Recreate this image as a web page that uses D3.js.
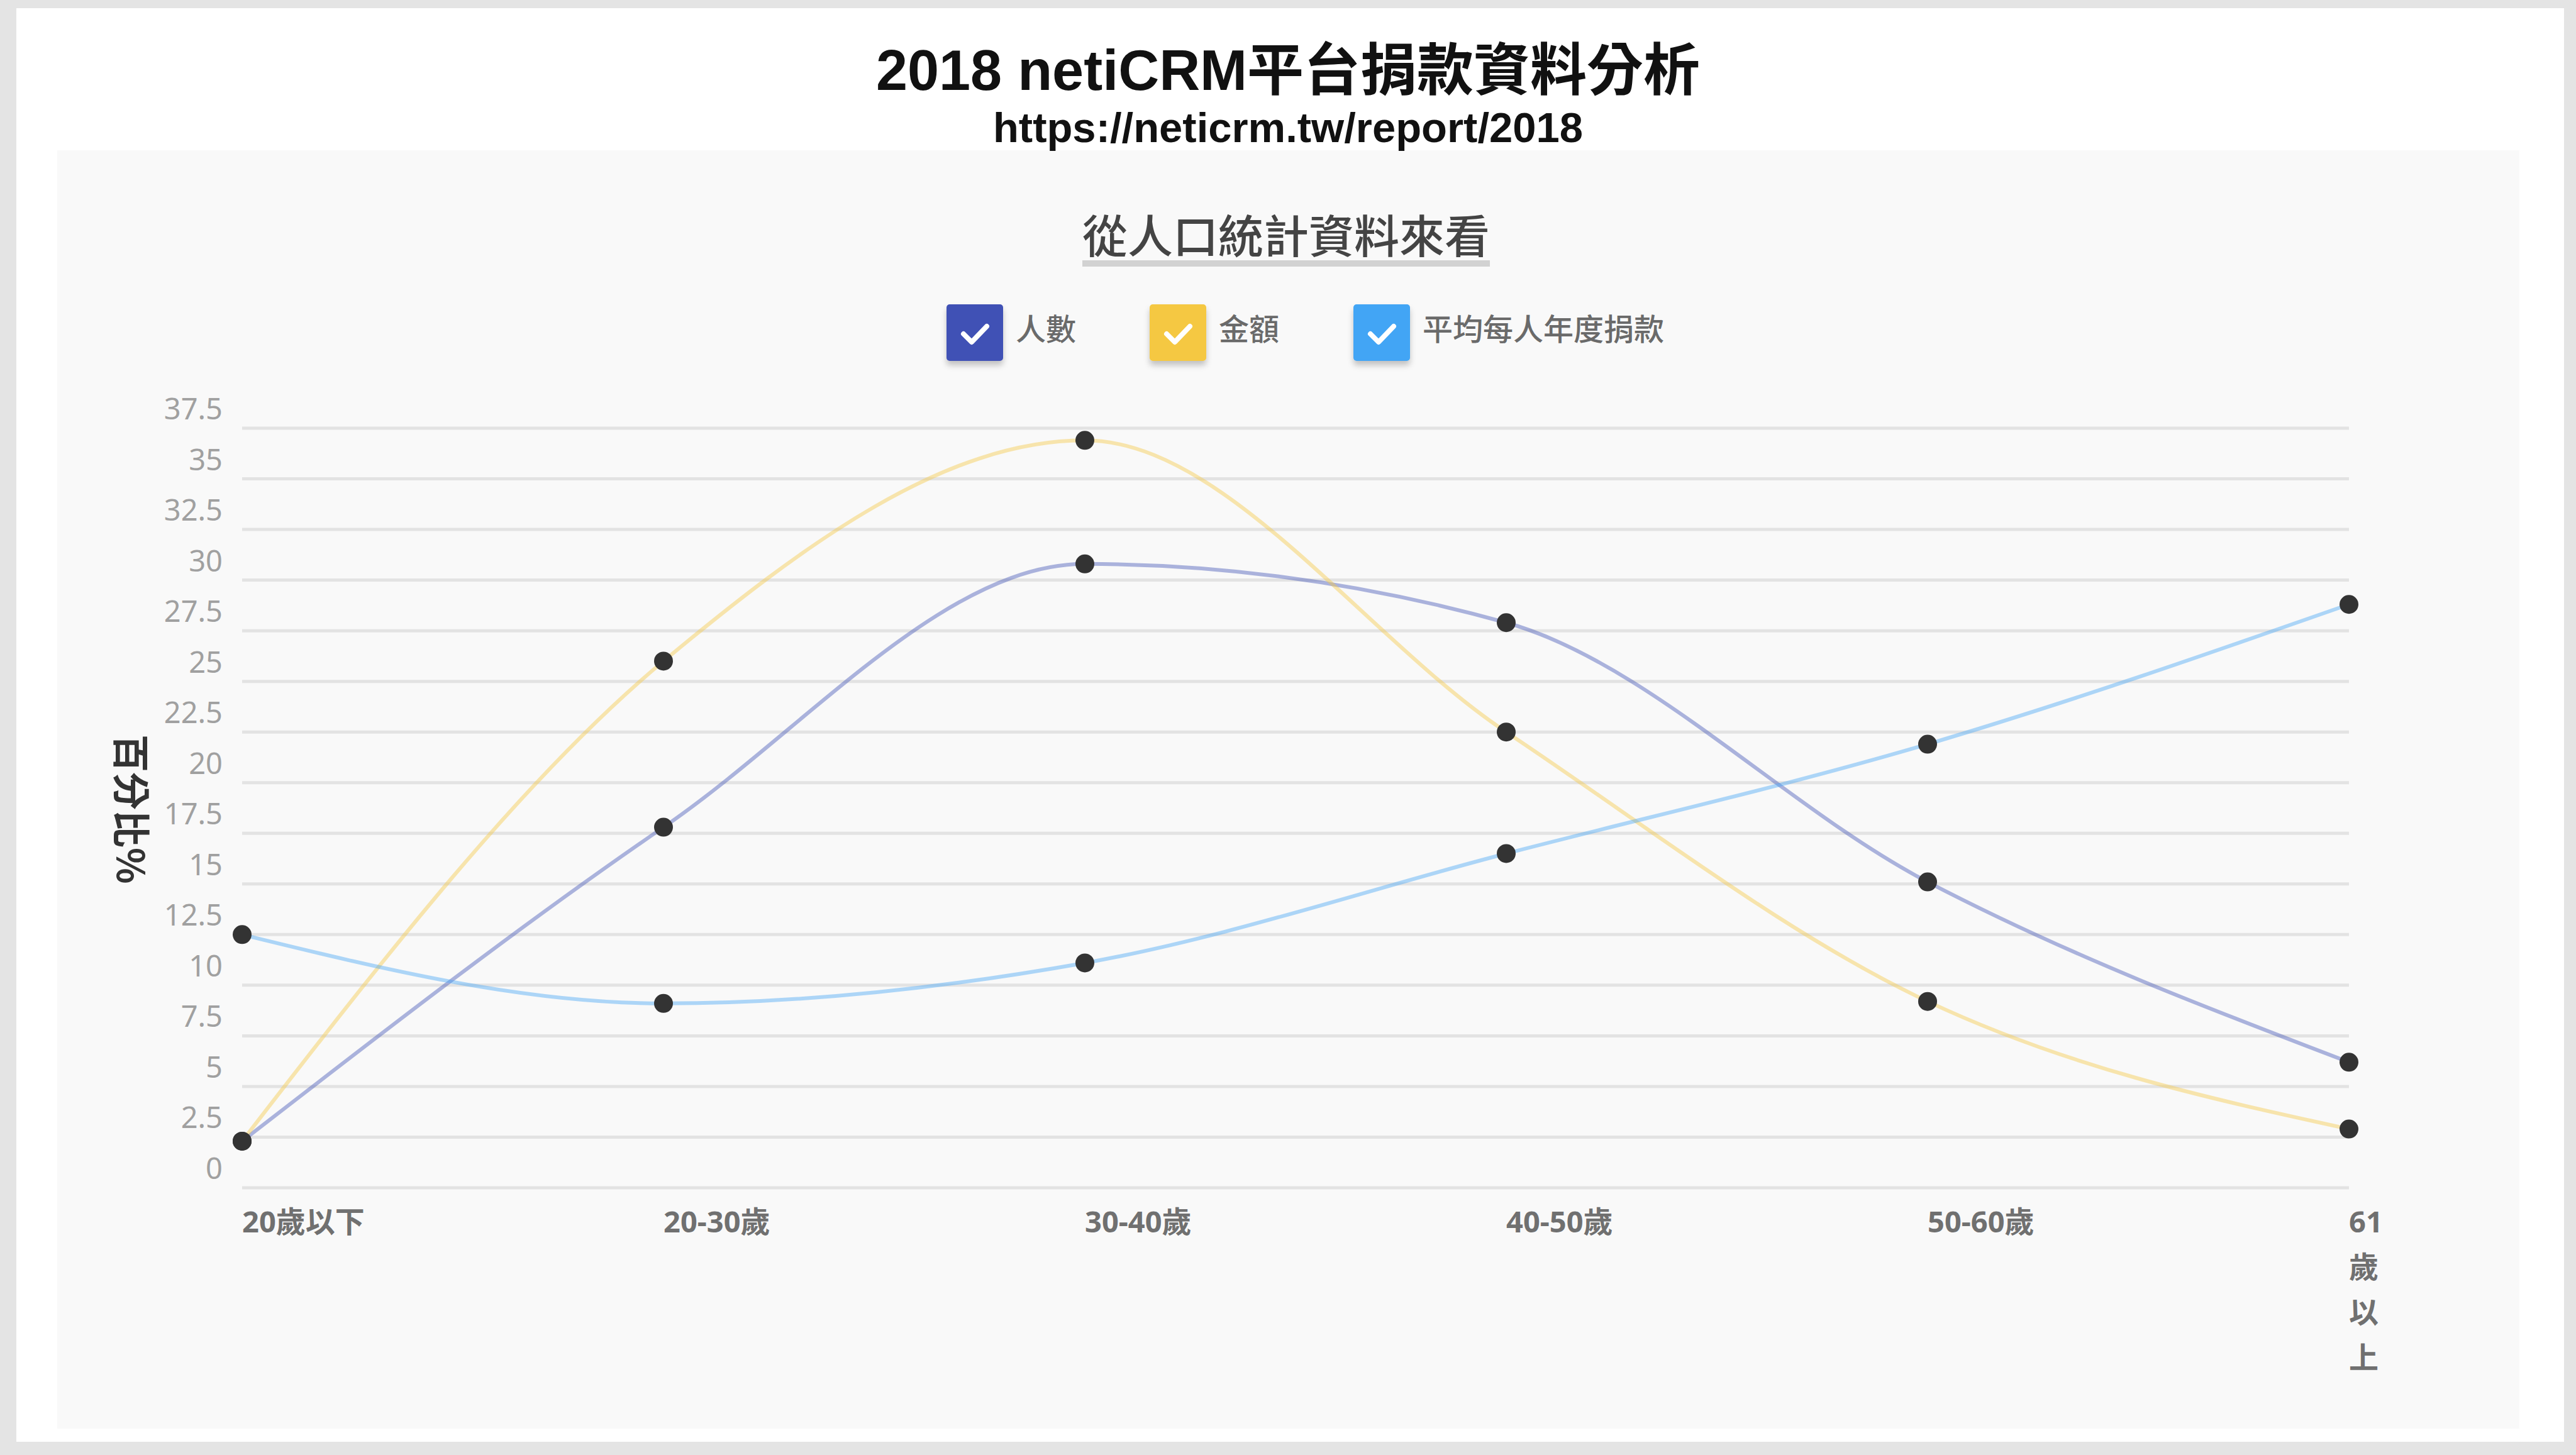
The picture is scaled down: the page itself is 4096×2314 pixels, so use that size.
<!DOCTYPE html>
<html>

<head>
    <meta charset="utf-8">
    <script src="https://d3js.org/d3.v7.min.js"></script>
    <style>
        body {
            margin: 0;
            background: #e4e4e4;
        }

        svg {
            display: block;
        }
    </style>
</head>

<body>
    <div id="my_dataviz"></div>

    <script>
        // chart data (percent)
        const ageGroups = ["20歲以下", "20-30歲", "30-40歲", "40-50歲", "50-60歲", "61歲以上"];
        const seriesNames = ["人數", "金額", "平均每人年度捐款"];
        const peopleShare = [2.3, 17.8, 30.8, 27.9, 15.1, 6.2];
        const amountShare = [2.3, 26.0, 36.9, 22.5, 9.2, 2.9];
        const avgDonation = [12.5, 9.1, 11.1, 16.5, 21.9, 28.8];
        const yTicks = [0, 2.5, 5, 7.5, 10, 12.5, 15, 17.5, 20, 22.5, 25, 27.5, 30, 32.5, 35, 37.5];

        const mainTitle = "2018 netiCRM平台捐款資料分析";
        const subTitle = "https://neticrm.tw/report/2018";
        const chartTitle = "從人口統計資料來看";
        const yTitle = "百分比%";

        const W = 4096, H = 2314;
        const cjk = "'Noto Sans CJK TC', 'Noto Sans', sans-serif";
        const latin = "'Liberation Sans', Arial, 'Noto Sans CJK TC', sans-serif";

        const svg = d3.select("#my_dataviz")
            .append("svg")
            .attr("width", W)
            .attr("height", H);

        // drop shadow for the legend boxes
        const defs = svg.append("defs");
        const shadow = defs.append("filter").attr("id", "boxShadow")
            .attr("x", "-30%").attr("y", "-30%").attr("width", "160%").attr("height", "170%");
        shadow.append("feDropShadow")
            .attr("dx", 0).attr("dy", 7).attr("stdDeviation", 5)
            .attr("flood-color", "#000").attr("flood-opacity", 0.22);

        // white card and grey chart panel
        svg.append("rect").attr("x", 0).attr("y", 0).attr("width", W).attr("height", H).attr("fill", "#e4e4e4");
        svg.append("rect").attr("x", 26).attr("y", 13).attr("width", 4051).attr("height", 2280).attr("fill", "#ffffff");
        svg.append("rect").attr("x", 91).attr("y", 239).attr("width", 3915).attr("height", 2033).attr("fill", "#f9f9f9");

        // titles
        svg.append("text")
            .attr("x", W / 2).attr("y", 143)
            .attr("text-anchor", "middle")
            .style("font-family", latin).style("font-weight", "bold").style("font-size", "90px")
            .attr("fill", "#111")
            .text(mainTitle);

        svg.append("text")
            .attr("x", W / 2).attr("y", 226)
            .attr("text-anchor", "middle")
            .style("font-family", latin).style("font-weight", "bold").style("font-size", "67px")
            .attr("fill", "#111")
            .text(subTitle);

        const ct = svg.append("text")
            .attr("x", 2045).attr("y", 370)
            .attr("text-anchor", "middle")
            .attr("dominant-baseline", "central")
            .style("font-family", cjk).style("font-weight", "500").style("font-size", "72px")
            .attr("fill", "#444")
            .text(chartTitle);
        const ctBox = ct.node().getBBox();
        svg.append("rect")
            .attr("x", ctBox.x).attr("y", 414)
            .attr("width", ctBox.width).attr("height", 10)
            .attr("fill", "#d2d2d2");

        // colours
        const color = d3.scaleOrdinal().domain(seriesNames).range(["#3f51b5", "#f5c842", "#42a5f5"]);

        // legend
        const legendX = [1505, 1828, 2152];
        const legend = svg.append("g")
            .selectAll("g")
            .data(seriesNames)
            .join("g")
            .attr("transform", (d, i) => `translate(${legendX[i]},484)`);

        legend.append("rect")
            .attr("width", 90).attr("height", 90).attr("rx", 5)
            .attr("fill", d => color(d))
            .attr("filter", "url(#boxShadow)");

        legend.append("path")
            .attr("d", "M27,47 L40,60 L64,35")
            .attr("fill", "none")
            .attr("stroke", "#fff")
            .attr("stroke-width", 8)
            .attr("stroke-linecap", "round")
            .attr("stroke-linejoin", "round");

        legend.append("text")
            .attr("x", 110).attr("y", 36)
            .attr("dominant-baseline", "central")
            .style("font-family", cjk).style("font-size", "48px").style("font-weight", "500")
            .attr("fill", "#6a6a6a")
            .text(d => d);

        // scales
        const x = d3.scalePoint().domain(ageGroups).range([385, 3735]);
        const y = d3.scaleLinear().domain([0, 37.5]).range([1889, 681]);

        // horizontal grid
        svg.append("g")
            .selectAll("line")
            .data(yTicks)
            .join("line")
            .attr("x1", x.range()[0]).attr("x2", x.range()[1])
            .attr("y1", d => y(d)).attr("y2", d => y(d))
            .attr("stroke", "#e3e3e3")
            .attr("stroke-width", 5);

        // y labels sit just above their grid line
        svg.append("g")
            .selectAll("text")
            .data(yTicks)
            .join("text")
            .attr("x", 354)
            .attr("y", d => y(d) - 32)
            .attr("text-anchor", "end")
            .attr("dominant-baseline", "central")
            .style("font-family", "'Noto Sans', sans-serif").style("font-size", "47px")
            .attr("fill", "#a0a0a0")
            .text(d => d);

        // x labels, the last one wraps one piece per line
        const xLab = svg.append("g")
            .selectAll("text")
            .data(ageGroups)
            .join("text")
            .attr("x", d => x(d))
            .attr("y", 1942)
            .style("font-family", "'Noto Sans', 'Noto Sans CJK TC', sans-serif")
            .style("font-size", "47px").style("font-weight", "bold")
            .attr("fill", "#707070");

        xLab.each(function (d, i) {
            const parts = i === ageGroups.length - 1 ? d.match(/\d+|./g) : [d];
            d3.select(this).selectAll("tspan")
                .data(parts)
                .join("tspan")
                .attr("x", x(d))
                .attr("y", (p, j) => 1942 + j * 72)
                .attr("dominant-baseline", "central")
                .text(p => p);
        });

        // y axis title
        svg.append("text")
            .attr("transform", "translate(212,1287) rotate(90)")
            .attr("text-anchor", "middle")
            .attr("dominant-baseline", "central")
            .style("font-family", cjk).style("font-weight", "bold").style("font-size", "60px")
            .attr("fill", "#333")
            .text(yTitle);

        // lines and points
        const series = [
            { name: "人數", values: peopleShare },
            { name: "金額", values: amountShare },
            { name: "平均每人年度捐款", values: avgDonation }
        ];

        const line = d3.line()
            .x((d, i) => x(ageGroups[i]))
            .y(d => y(d))
            .curve(d3.curveMonotoneX);

        svg.append("g")
            .selectAll("path")
            .data(series)
            .join("path")
            .attr("fill", "none")
            .attr("stroke", d => color(d.name))
            .attr("stroke-opacity", 0.42)
            .attr("stroke-width", 6)
            .attr("d", d => line(d.values));

        svg.append("g")
            .selectAll("g")
            .data(series)
            .join("g")
            .selectAll("circle")
            .data(d => d.values.map((v, i) => ({ v: v, cat: ageGroups[i] })))
            .join("circle")
            .attr("cx", d => x(d.cat))
            .attr("cy", d => y(d.v))
            .attr("r", 15)
            .attr("fill", "#333");
    </script>
</body>

</html>
